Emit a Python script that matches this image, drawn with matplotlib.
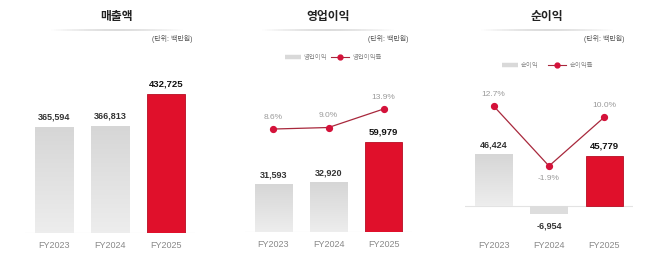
import matplotlib
matplotlib.use("Agg")
import matplotlib.pyplot as plt
import numpy as np
from matplotlib.collections import LineCollection

plt.rcParams['font.family'] = ['Liberation Sans', 'Noto Sans CJK KR']

# ---- data ----
years = ["FY2023", "FY2024", "FY2025"]
titles = ["매출액", "영업이익", "순이익"]
unit_label = "(단위: 백만원)"
revenue = [365594, 366813, 432725]
op_profit = [31593, 32920, 59979]
op_margin = [8.6, 9.0, 13.9]
net_profit = [46424, -6954, 45779]
net_margin = [12.7, -1.9, 10.0]
legend_op = ["영업이익", "영업이익률"]
legend_net = ["순이익", "순이익률"]

W, H = 658, 258
fig = plt.figure(figsize=(W / 100, H / 100), dpi=100)
fig.patch.set_facecolor("white")

GRAY_TOP = np.array([0.84, 0.84, 0.84])
GRAY_BOT = np.array([0.93, 0.93, 0.93])
RED = "#e0102b"
LINE_C = "#a8283c"
MARK_C = "#d4123a"
PCT_C = "#9a9a9a"
TICK_C = "#888888"


def px_axes(x0, x1, ytop, ybot):
    return fig.add_axes([x0 / W, 1 - ybot / H, (x1 - x0) / W, (ybot - ytop) / H])


def ftext(x, y, s, **kw):
    fig.text(x / W, 1 - y / H, s, **kw)


def underline(xc, y, half=68):
    xs = np.linspace(xc - half, xc + half, 60)
    pts = np.array([[x / W, 1 - y / H] for x in xs])
    segs = np.stack([pts[:-1], pts[1:]], axis=1)
    t = np.linspace(-1, 1, len(segs))
    alphas = np.clip(1 - np.abs(t) ** 1.5, 0, 1) * 0.9
    cols = [(0.82, 0.82, 0.82, a) for a in alphas]
    lc = LineCollection(segs, colors=cols, linewidths=1.2, transform=fig.transFigure)
    fig.add_artist(lc)


def draw_bars(ax, values):
    x = np.arange(len(values))
    bars = ax.bar(x, values, width=0.68, bottom=0, zorder=2)
    ymin = ax.get_ylim()[0]
    for i, b in enumerate(bars):
        if i == len(values) - 1:
            b.set_facecolor(RED)
            b.set_edgecolor("#b80c22")
            b.set_linewidth(0.6)
        else:
            b.set_facecolor("none")
            b.set_edgecolor("none")
            x0, y0 = b.get_x(), b.get_y()
            w, h = b.get_width(), b.get_height()
            lo, hi = min(y0, y0 + h), max(y0, y0 + h)
            lo = max(lo, ymin)
            grad = np.linspace(0, 1, 50)[:, None]
            if h < 0:
                grad = np.zeros_like(grad) + 0.3
            img = GRAY_TOP[None, None, :] * (1 - grad[..., None]) + GRAY_BOT[None, None, :] * grad[..., None]
            ax.imshow(img, extent=[x0, x0 + w, lo, hi], aspect="auto",
                      origin="upper", zorder=1, interpolation="bilinear")
    return bars


def style_ax(ax, ylim, baseline):
    ax.set_xlim(-0.518, 2.518)
    ax.set_ylim(*ylim)
    for s in ax.spines.values():
        s.set_visible(False)
    ax.set_yticks([])
    ax.set_xticks(range(len(years)))
    ax.set_xticklabels(years, color=TICK_C, fontsize=6.5)
    ax.tick_params(axis="x", length=0, pad=5.5)
    ax.axhline(baseline, color="#e3e3e3", lw=0.8, zorder=0)
    ax.set_facecolor("none")


def value_labels(ax, values):
    for i, v in enumerate(values):
        last = i == len(values) - 1
        off = 10 if v >= 0 else -12
        ax.annotate(f"{v:,}", (i, v), xytext=(0, off / 1.389), textcoords="offset points",
                    ha="center", va="center", fontsize=6.8 if last else 6.5,
                    fontweight="bold", color="#111111" if last else "#333333", zorder=5)


def line_series(ax, pct):
    x = np.arange(len(pct))
    ax.plot(x, pct, color=LINE_C, lw=0.9, zorder=3)
    ax.plot(x, pct, "o", color=MARK_C, ms=4.2, zorder=4)
    for i, p in enumerate(pct):
        off = 12 if p >= 0 else -12
        ax.annotate(f"{p:.1f}%", (i, p), xytext=(0, off / 1.389), textcoords="offset points",
                    ha="center", va="center", fontsize=6, color=PCT_C)


def legend(xpatch, y, labels):
    fig.add_artist(plt.Line2D([xpatch / W, (xpatch + 16) / W], [1 - y / H] * 2,
                              color="#d9d9d9", lw=3.2, transform=fig.transFigure, solid_capstyle="butt"))
    ftext(xpatch + 19, y, labels[0], fontsize=4.6, color="#8a8a8a", va="center", ha="left")
    lx = xpatch + 46
    fig.add_artist(plt.Line2D([lx / W, (lx + 18) / W], [1 - y / H] * 2,
                              color=LINE_C, lw=0.8, transform=fig.transFigure))
    fig.add_artist(plt.Line2D([(lx + 9) / W], [1 - y / H], marker="o", ms=3.5,
                              color=MARK_C, transform=fig.transFigure))
    ftext(lx + 22, y, labels[1], fontsize=4.6, color="#8a8a8a", va="center", ha="left")


def twin(ax, ylim):
    axb = ax.twinx()
    axb.set_ylim(*ylim)
    axb.set_yticks([])
    for s in axb.spines.values():
        s.set_visible(False)
    return axb


# ---- panel 1: revenue ----
ax1 = px_axes(25, 195, 60, 233)
style_ax(ax1, (150000, 502000), 150000)
draw_bars(ax1, revenue)
ax1.set_ylim(150000, 502000)
value_labels(ax1, revenue)
ftext(117, 17, titles[0], fontsize=8.5, fontweight="bold", ha="center", va="center", color="#222222")
underline(117, 30)
ftext(192, 39, unit_label, fontsize=5, ha="right", va="center", color="#555555")

# ---- panel 2: operating profit ----
ax2 = px_axes(245, 412, 60, 232)
style_ax(ax2, (0, 114600), 0)
draw_bars(ax2, op_profit)
ax2.set_ylim(0, 114600)
value_labels(ax2, op_profit)
ax2b = twin(ax2, (-18.7, 26.9))
line_series(ax2b, op_margin)
ftext(328, 17, titles[1], fontsize=8.5, fontweight="bold", ha="center", va="center", color="#222222")
underline(328, 30)
ftext(408, 39, unit_label, fontsize=5, ha="right", va="center", color="#555555")
legend(285, 57, legend_op)

# ---- panel 3: net profit ----
ax3 = px_axes(465, 633, 60, 233)
style_ax(ax3, (-24570, 132860), 0)
draw_bars(ax3, net_profit)
ax3.set_ylim(-24570, 132860)
value_labels(ax3, net_profit)
ax3b = twin(ax3, (-18.2, 23.9))
line_series(ax3b, net_margin)
ftext(547, 17, titles[2], fontsize=8.5, fontweight="bold", ha="center", va="center", color="#222222")
underline(547, 30)
ftext(625, 39, unit_label, fontsize=5, ha="right", va="center", color="#555555")
legend(502, 65, legend_net)

fig.savefig("out.png", dpi=100, facecolor="white")
